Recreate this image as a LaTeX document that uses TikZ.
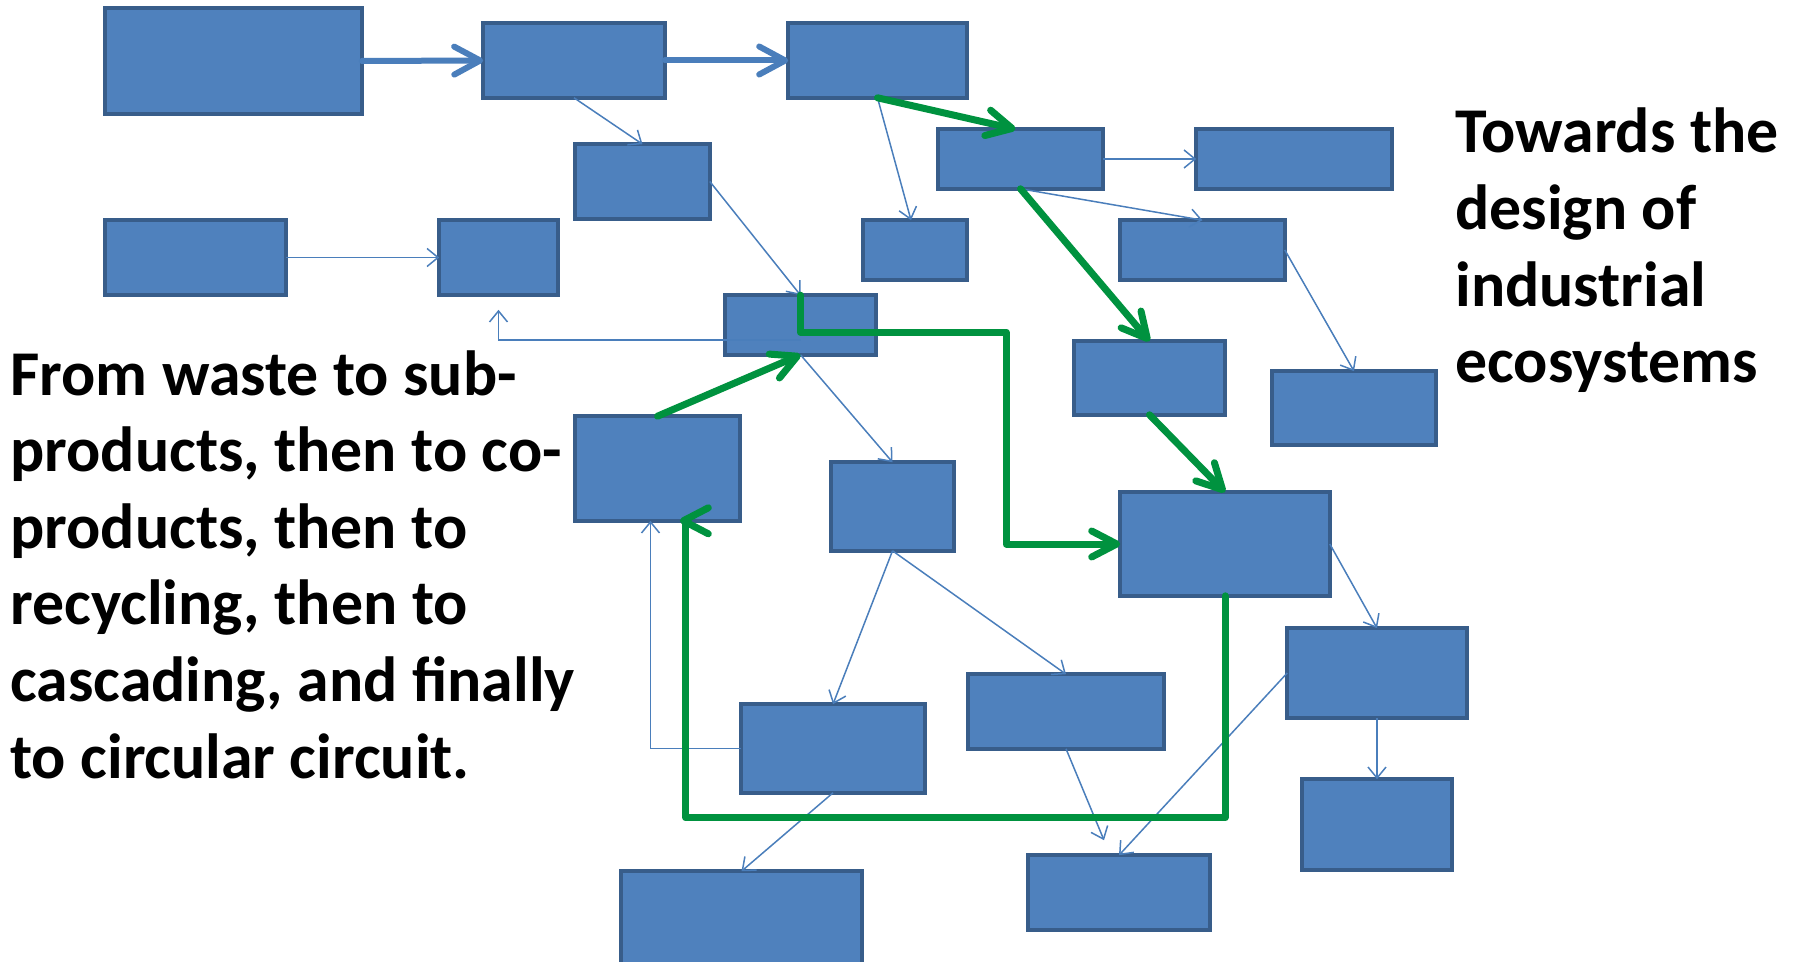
\documentclass[tikz,border=0pt]{standalone}
\usepackage{fontspec}
\setmainfont{Carlito}
\usetikzlibrary{arrows.meta,fit,calc}
\definecolor{boxfill}{HTML}{4F81BD}
\definecolor{boxline}{HTML}{385D8A}
\definecolor{arrowblue}{HTML}{4A7EBB}
\definecolor{loopgreen}{HTML}{00923F}
\begin{document}
\begin{tikzpicture}[x=0.5pt,y=-0.5pt,
  blockbox/.style={rectangle, draw=boxline, fill=boxfill, line width=2.2pt, inner sep=-1.1pt, outer sep=0pt},
  thinarrow/.style={draw=arrowblue, line width=0.75pt, -{Straight Barb[length=5.5pt,width=9pt]}},
  thickarrow/.style={draw=arrowblue, line width=3pt, line cap=round, -{Straight Barb[length=13pt,width=14pt,round]}},
  greenline/.style={draw=loopgreen, line width=3.5pt, line cap=round, line join=round},
  greenarrow/.style={greenline, -{Straight Barb[length=12.5pt,width=13pt,round]}},
  bigtext/.style={font=\fontsize{31.9}{38.3}\selectfont\bfseries, inner sep=0pt, anchor=base west}]
\useasboundingbox (0,0) rectangle (1797,962);

% boxes
\node[blockbox, fit={(103,6) (364,116)}] (A) {};
\node[blockbox, fit={(481,21) (667,100)}] (B) {};
\node[blockbox, fit={(786,21) (969,100)}] (C) {};
\node[blockbox, fit={(573,142) (712,221)}] (D) {};
\node[blockbox, fit={(103,218) (288,297)}] (E) {};
\node[blockbox, fit={(437,218) (560,297)}] (F) {};
\node[blockbox, fit={(723,293) (878,357)}] (G) {};
\node[blockbox, fit={(573,414) (742,523)}] (H) {};
\node[blockbox, fit={(829,460) (956,553)}] (I) {};
\node[blockbox, fit={(861,218) (969,282)}] (J) {};
\node[blockbox, fit={(936,127) (1105,191)}] (K1) {};
\node[blockbox, fit={(1194,127) (1394,191)}] (L) {};
\node[blockbox, fit={(1118,218) (1287,282)}] (M) {};
\node[blockbox, fit={(1072,339) (1227,417)}] (N) {};
\node[blockbox, fit={(1270,369) (1438,447)}] (O) {};
\node[blockbox, fit={(1118,490) (1332,598)}] (K) {};
\node[blockbox, fit={(739,702) (927,795)}] (P) {};
\node[blockbox, fit={(619,869) (864,975)}] (Q) {};
\node[blockbox, fit={(966,672) (1166,751)}] (R) {};
\node[blockbox, fit={(1285,626) (1469,720)}] (S) {};
\node[blockbox, fit={(1300,777) (1454,872)}] (T) {};
\node[blockbox, fit={(1026,853) (1212,932)}] (U) {};

% thick blue arrows
\draw[thickarrow] (A.east) -- (B.west);
\draw[thickarrow] (B.east) -- (C.west);

% thin blue arrows
\draw[thinarrow] (B.south) -- (D.north);
\draw[thinarrow] (E.east) -- (F.west);
\draw[thinarrow] (D.east) -- (G.north);
\draw[thinarrow] ($(G.center)+(0,15)$) -| ($(F.south)+(0,15)$);
\draw[thinarrow] (C.south) -- ($(J.north)+(-4,0)$);
\draw[thinarrow] (K1.east) -- (L.west);
\draw[thinarrow] (K1.south) -- (M.north);
\draw[thinarrow] (M.east) -- (O.north);
\draw[thinarrow] (G.south) -- (I.north);
\draw[thinarrow] (I.south) -- (P.north);
\draw[thinarrow] (I.south) -- (R.north);
\draw[thinarrow] (P.west) -| ($(H.south)+(-7,0)$);
\draw[thinarrow] (P.south) -- (Q.north);
\draw[thinarrow] (R.south) -- ($(U.north)+(-15,-15)$);
\draw[thinarrow] (S.west) -- (U.north);
\draw[thinarrow] (K.east) -- (S.north);
\draw[thinarrow] (S.south) -- (T.north);

% green arrows
\draw[greenarrow] (C.south) -- ($(K1.north)+(-5,0)$);
\draw[greenarrow] (K1.south) -- (N.north);
\draw[greenarrow] (N.south) -- (K.north);
\draw[greenarrow] (H.north) -- (G.south);
\draw[greenarrow] (G.north) -- ($(G.north)+(0,37)$) -| ($(K.west)+(-114,0)$) -- (K.west);
\draw[greenline] (K.south) -- ($(K.south)+(0,222)$) -| ($(H.south east)+(-54,0)$);
\draw[greenarrow] ($(H.south east)+(-52,0)$) -- ($(H.south east)+(-60,0)$);

% texts
\node[bigtext] (lefttext) at (10,395) {\vtop{\hbox{From waste to sub-}\hbox{products, then to co-}\hbox{products, then to}\hbox{recycling, then to}\hbox{cascading, and finally}\hbox{to circular circuit.}}};
\node[bigtext] (righttext) at (1455,153) {\vtop{\hbox{Towards the}\hbox{design of}\hbox{industrial}\hbox{ecosystems}}};
\end{tikzpicture}
\end{document}
